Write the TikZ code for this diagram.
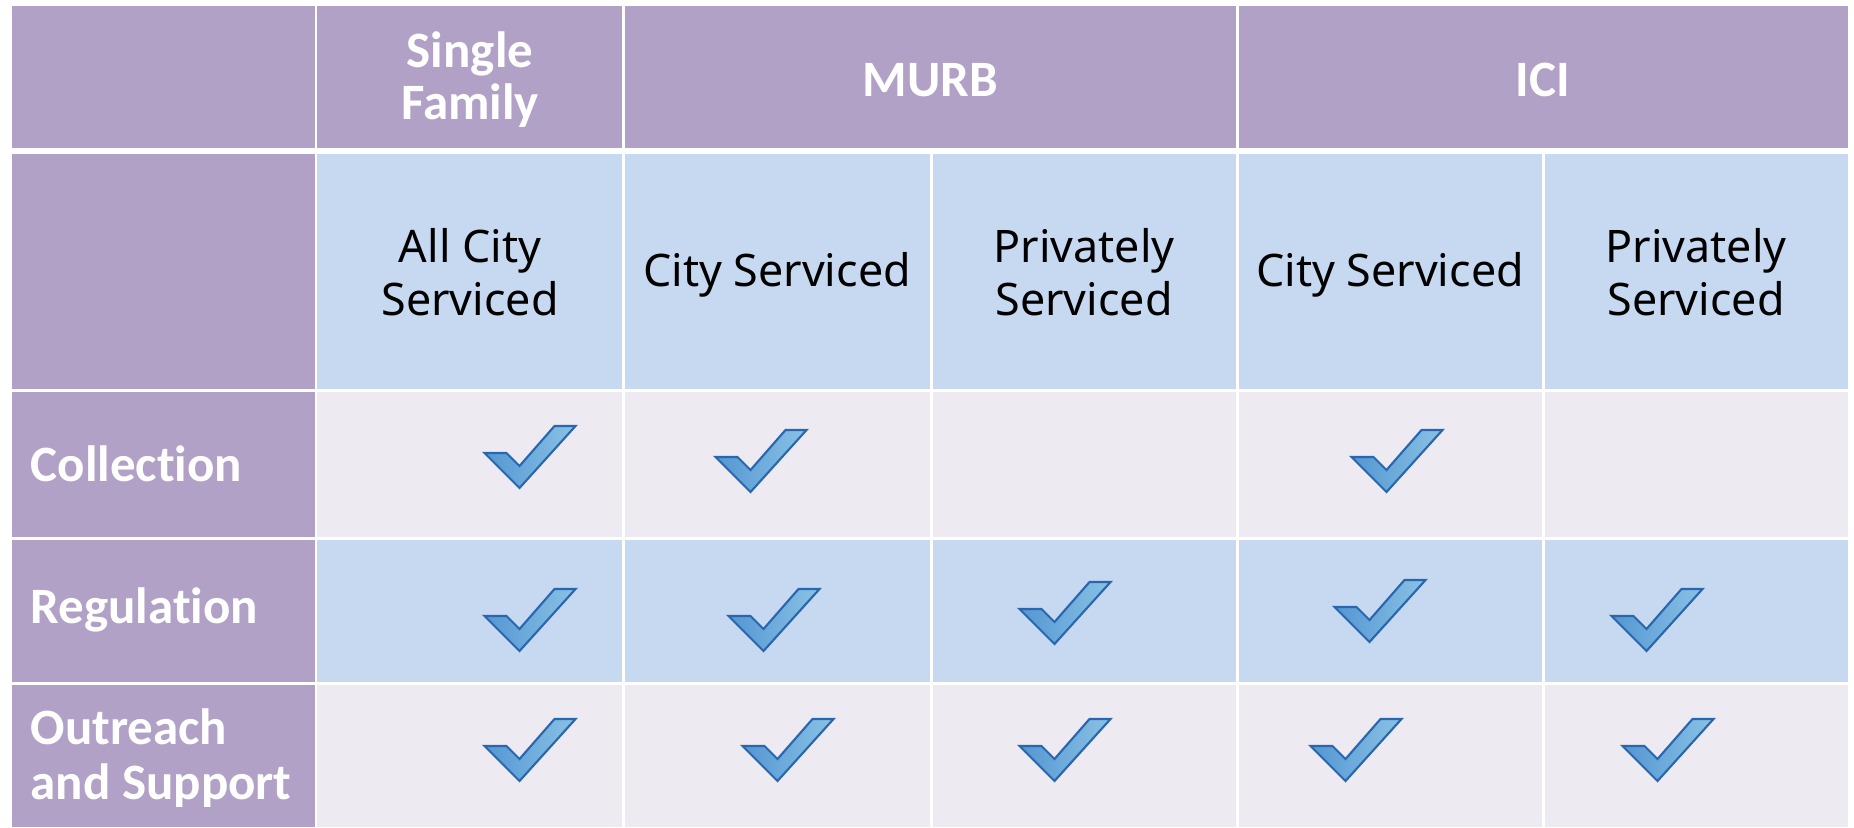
\documentclass[tikz,border=0pt]{standalone}
\usepackage{fontspec}
\usepackage{xcolor}
\usepackage{tikz}
\usetikzlibrary{positioning}
\newfontfamily\headfont{Carlito}[RawFeature={-liga;-clig;-dlig}]
\newfontfamily\bodyfont{Noto Sans}
\definecolor{headpurple}{HTML}{B1A1C7}
\definecolor{cellblue}{HTML}{C6D9F1}
\definecolor{cellgrey}{HTML}{EDEBF1}
\definecolor{tickdark}{HTML}{2A66AE}
\definecolor{tickmid}{HTML}{5396D2}
\definecolor{ticklight}{HTML}{8AC2E5}
\tikzset{
  head/.style={text=white, font=\headfont\bfseries\fontsize{14.5}{14.8}\selectfont, inner sep=0pt, align=center},
  rowlabel/.style={text=white, font=\headfont\bfseries\fontsize{14.5}{15.6}\selectfont, inner sep=0pt, anchor=west, align=left},
  sub/.style={text=black, font=\bodyfont\fontsize{12.75}{15.1}\selectfont, inner sep=0pt, align=center},
  gap/.style={white, line width=0.85pt},
  tickmark/.pic={
    \shadedraw[draw=tickdark, line width=0.6pt, left color=tickmid, right color=ticklight]
      (-45.5,-4) -- (-23.5,-4) -- (-10.5,9) -- (24.5,-31) -- (45.5,-31) -- (-10.5,31) -- cycle;
  }
}

\begin{document}
\begin{tikzpicture}[x=0.01cm, y=-0.01cm]
    \useasboundingbox (0,0) rectangle (1854,827);

    % Background fills
    \fill[headpurple] (12,6) rectangle (1848,148);
    \fill[headpurple] (12,154) rectangle (316,827);
    \fill[cellblue] (316,154) rectangle (1848,390);
    \fill[cellgrey] (316,390) rectangle (1848,538);
    \fill[cellblue] (316,538) rectangle (1848,683);
    \fill[cellgrey] (316,683) rectangle (1848,827);

    % White grid lines
    \draw[gap] (316,6) -- (316,827);
    \draw[gap] (623,6) -- (623,827);
    \draw[gap] (931,148) -- (931,827);
    \draw[gap] (1237,6) -- (1237,827);
    \draw[gap] (1543,148) -- (1543,827);
    \draw[gap] (12,390) -- (1848,390);
    \draw[gap] (12,538) -- (1848,538);
    \draw[gap] (12,683) -- (1848,683);

    % Header row
    \node[head] (single) at (470,80) {Single\\Family};
    \node[head] (murb) at (930,80) {MURB};
    \node[head] (ici) at (1543,80) {ICI};

    % Service type row
    \node[sub] (sfall) at (470,272) {All City\\Serviced};
    \node[sub] (murbcity) at (777,275) {City Serviced};
    \node[sub] (murbpriv) at (1084,272) {Privately\\Serviced};
    \node[sub] (icicity) at (1390,275) {City Serviced};
    \node[sub] (icipriv) at (1696,272) {Privately\\Serviced};

    % Row labels
    \node[rowlabel] (collection) at (30,464) {Collection};
    \node[rowlabel] (regulation) at (30,610) {Regulation};
    \node[rowlabel] (outreach) at (30,758) {Outreach\\and Support};

    % Check marks: collection
    \pic (colsf) at (530,457) {tickmark};
    \pic (colmc) at (761,461) {tickmark};
    \pic (colic) at (1397,461) {tickmark};

    % Check marks: regulation
    \pic (regsf) at (530,620) {tickmark};
    \pic (regmc) at (774,620) {tickmark};
    \pic (regmp) at (1065,613) {tickmark};
    \pic (regic) at (1380,611) {tickmark};
    \pic (regip) at (1657,620) {tickmark};

    % Check marks: outreach
    \pic (outsf) at (530,750) {tickmark};
    \pic (outmc) at (788,750) {tickmark};
    \pic (outmp) at (1065,750) {tickmark};
    \pic (outic) at (1356,750) {tickmark};
    \pic (outip) at (1668,750) {tickmark};
\end{tikzpicture}
\end{document}
